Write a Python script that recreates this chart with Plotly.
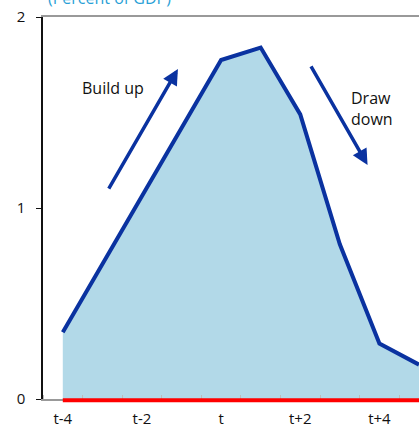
import plotly.graph_objects as go

# Data
periods = [-4, -3, -2, -1, 0, 1, 2, 3, 4, 5]
values = [0.35, 0.705, 1.06, 1.415, 1.775, 1.84, 1.49, 0.81, 0.29, 0.18]
tick_vals = [-4, -2, 0, 2, 4]
tick_text = ["t-4", "t-2", "t", "t+2", "t+4"]
y_ticks = [0, 1, 2]

line_blue = "#0a32a0"
font = "Open Sans"
x_range = [-4.5, 5]

fig = go.Figure()
fig.add_trace(go.Scatter(
    x=periods, y=values, mode="lines",
    line=dict(color=line_blue, width=4),
    fill="tozeroy", fillcolor="#b2d9e8",
    hoverinfo="skip", showlegend=False,
))

# red baseline (paper coords so it is not clipped at the plot edge)
span = x_range[1] - x_range[0]
fig.add_shape(type="line", xref="paper", yref="paper",
              x0=(periods[0] - x_range[0]) / span,
              x1=(periods[-1] - x_range[0]) / span,
              y0=-0.003, y1=-0.003,
              line=dict(color="#ff0000", width=4), layer="above")

fig.update_layout(
    width=419, height=432,
    margin=dict(l=43, r=0, t=17, b=33),
    paper_bgcolor="white", plot_bgcolor="white",
    font=dict(family=font, size=15, color="#111111"),
    xaxis=dict(
        range=x_range, showgrid=False, zeroline=False,
        tickmode="array", tickvals=tick_vals, ticktext=tick_text,
        ticks="", showline=True, linecolor="#999999", linewidth=2, mirror=True,
        minor=dict(ticks="inside", tickmode="linear", tick0=-3.5, dtick=1,
                   ticklen=4, tickcolor="#bbbbbb", tickwidth=1),
        ticklabelstandoff=5,
    ),
    yaxis=dict(
        range=[0, 2], showgrid=False, zeroline=False,
        tickmode="array", tickvals=y_ticks,
        ticks="outside", ticklen=5, tickcolor="#111111",
        showline=True, linecolor="#111111", linewidth=1.5,
        ticklabelstandoff=8,
    ),
    annotations=[
        dict(text="(Percent of GDP)", xref="paper", yref="paper",
             x=0.008, y=1.05, xanchor="left", yanchor="middle",
             showarrow=False, font=dict(color="#2a9fd6", size=16)),
        dict(text="Build up", x=-2.74, y=1.63, xref="x", yref="y",
             showarrow=False, font=dict(size=16)),
        dict(text="Draw<br>down", x=3.81, y=1.52, xref="x", yref="y",
             showarrow=False, align="left", font=dict(size=16)),
        dict(x=-1.09, y=1.728, ax=-2.86, ay=1.094, xref="x", yref="y",
             axref="x", ayref="y", text="", showarrow=True,
             arrowhead=2, arrowsize=0.9, arrowwidth=3.5, arrowcolor=line_blue),
        dict(x=3.70, y=1.225, ax=2.25, ay=1.749, xref="x", yref="y",
             axref="x", ayref="y", text="", showarrow=True,
             arrowhead=2, arrowsize=0.9, arrowwidth=3.5, arrowcolor=line_blue),
    ],
)

fig.write_html("out.html", config={"displayModeBar": False},
               post_script="document.body.style.margin='0';document.body.style.overflow='hidden';")
